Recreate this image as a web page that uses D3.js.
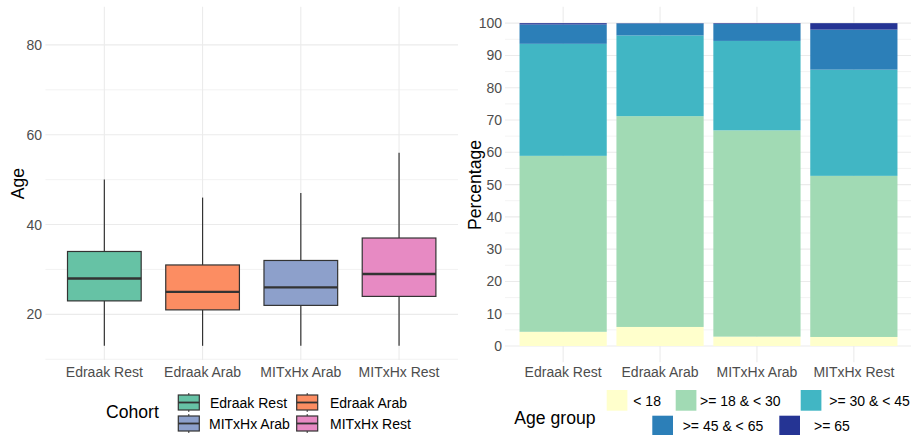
<!DOCTYPE html>
<html><head><meta charset="utf-8">
<script src="https://cdn.jsdelivr.net/npm/d3@7"></script>
<style>body{margin:0;background:#fff}svg{display:block;font-family:"Liberation Sans",Arial,sans-serif}</style>
</head><body><svg id="c" width="911" height="435"></svg>
<script>
// ---- data ----
const cohorts = ["Edraak Rest","Edraak Arab","MITxHx Arab","MITxHx Rest"];
const cohortColors = ["#66C2A5","#FC8D62","#8DA0CB","#E78AC3"];
const boxMin = [13,13,13,13];
const boxQ1 = [23,21,22,24];
const boxMedian = [28,25,26,29];
const boxQ3 = [34,31,32,37];
const boxMax = [50,46,47,56];
const ageTicks = [20,40,60,80];

const ageGroups = ["< 18",">= 18 & < 30",">= 30 & < 45",">= 45 & < 65",">= 65"];
const ageColors = ["#FFFFCC","#A1DAB4","#41B6C4","#2C7FB8","#253494"];
const pctUnder18 = [4.4,5.9,2.9,2.8];
const pct18to30 = [54.5,65.3,63.9,49.9];
const pct30to45 = [34.7,25.0,27.7,32.9];
const pct45to65 = [6.0,3.7,5.3,12.4];
const pct65plus = [0.4,0.1,0.2,2.0];
const pctTicks = [0,10,20,30,40,50,60,70,80,90,100];

const svg = d3.select("#c");
const grid = "#EBEBEB", txt = "#4D4D4D";

// ---- left panel: boxplot ----
const xL = d3.scaleBand().domain(cohorts).range([45.4,458]).paddingOuter(0.6/1.0).paddingInner(0);
// emulate ggplot discrete expansion: center spacing = step
const stepL = (458-45.4)/4.2;
const cxL = c => 45.4 + stepL*(0.6 + cohorts.indexOf(c));
const yL = d3.scaleLinear().domain([9.84,88.5]).range([360,6.7]);

const gL = svg.append("g");
// minor grid
[10,30,50,70].forEach(v=>gL.append("line").attr("x1",45.4).attr("x2",458).attr("y1",yL(v)).attr("y2",yL(v)).attr("stroke",grid).attr("stroke-width",0.6));
ageTicks.forEach(v=>gL.append("line").attr("x1",45.4).attr("x2",458).attr("y1",yL(v)).attr("y2",yL(v)).attr("stroke",grid).attr("stroke-width",1.1));
cohorts.forEach(c=>gL.append("line").attr("x1",cxL(c)).attr("x2",cxL(c)).attr("y1",6.7).attr("y2",360).attr("stroke",grid).attr("stroke-width",1.1));

const yAxisL = d3.axisLeft(yL).tickValues(ageTicks).tickSize(0).tickPadding(0);
const ga = svg.append("g").attr("transform","translate(42,0)").call(yAxisL);
ga.select(".domain").remove();
ga.selectAll("text").attr("fill",txt).attr("font-size",14).attr("font-family","Liberation Sans, Arial, sans-serif");

const bw = stepL*0.75;
cohorts.forEach((c,i)=>{
  const cx = cxL(c);
  gL.append("line").attr("x1",cx).attr("x2",cx).attr("y1",yL(boxMax[i])).attr("y2",yL(boxQ3[i])).attr("stroke","#333").attr("stroke-width",1.2);
  gL.append("line").attr("x1",cx).attr("x2",cx).attr("y1",yL(boxQ1[i])).attr("y2",yL(boxMin[i])).attr("stroke","#333").attr("stroke-width",1.2);
  gL.append("rect").attr("x",cx-bw/2).attr("width",bw).attr("y",yL(boxQ3[i])).attr("height",yL(boxQ1[i])-yL(boxQ3[i]))
    .attr("fill",cohortColors[i]).attr("stroke","#333").attr("stroke-width",1.2);
  gL.append("line").attr("x1",cx-bw/2).attr("x2",cx+bw/2).attr("y1",yL(boxMedian[i])).attr("y2",yL(boxMedian[i])).attr("stroke","#333").attr("stroke-width",2.4);
  svg.append("text").attr("x",cx).attr("y",376.5).attr("text-anchor","middle").attr("font-size",14).attr("fill",txt).text(c);
});
svg.append("text").attr("transform","translate(23.5,183.5) rotate(-90)").attr("text-anchor","middle").attr("font-size",17.6).attr("fill","#000").text("Age");

// left legend
svg.append("text").attr("x",106).attr("y",418).attr("font-size",17.6).attr("fill","#000").text("Cohort");
const legPosL = [[178.3,395,210],[296.7,395,330],[178.3,416,209],[296.7,416,330]];
cohorts.forEach((c,i)=>{
  const [kx,ky,tx] = legPosL[i];
  const kw=21, kh=15;
  svg.append("line").attr("x1",kx+kw/2).attr("x2",kx+kw/2).attr("y1",ky-2).attr("y2",ky+kh+2).attr("stroke","#333").attr("stroke-width",1);
  svg.append("rect").attr("x",kx).attr("y",ky).attr("width",kw).attr("height",kh).attr("fill",cohortColors[i]).attr("stroke","#333").attr("stroke-width",1.2);
  svg.append("line").attr("x1",kx).attr("x2",kx+kw).attr("y1",ky+kh/2).attr("y2",ky+kh/2).attr("stroke","#333").attr("stroke-width",1.8);
  svg.append("text").attr("x",tx).attr("y",ky+12.5).attr("font-size",14).attr("fill","#000").text(c);
});

// ---- right panel: stacked bars ----
const stepR = (912-505)/4.2;
const cxR = i => 505 + stepR*(0.6+i);
const yR = d3.scaleLinear().domain([-5.05,105.1]).range([362.3,6.7]);
const gR = svg.append("g");
d3.range(5,105,10).forEach(v=>gR.append("line").attr("x1",505).attr("x2",911).attr("y1",yR(v)).attr("y2",yR(v)).attr("stroke",grid).attr("stroke-width",0.6));
[-5].forEach(()=>{});
pctTicks.forEach(v=>gR.append("line").attr("x1",505).attr("x2",911).attr("y1",yR(v)).attr("y2",yR(v)).attr("stroke",grid).attr("stroke-width",1.1));
cohorts.forEach((c,i)=>gR.append("line").attr("x1",cxR(i)).attr("x2",cxR(i)).attr("y1",6.7).attr("y2",362.3).attr("stroke",grid).attr("stroke-width",1.1));

const ga2 = svg.append("g").attr("transform","translate(502,0)").call(d3.axisLeft(yR).tickValues(pctTicks).tickSize(0).tickPadding(0));
ga2.select(".domain").remove();
ga2.selectAll("text").attr("fill",txt).attr("font-size",14).attr("font-family","Liberation Sans, Arial, sans-serif");

const table = cohorts.map((c,i)=>({cohort:c, g0:pctUnder18[i], g1:pct18to30[i], g2:pct30to45[i], g3:pct45to65[i], g4:pct65plus[i]}));
const stack = d3.stack().keys(["g0","g1","g2","g3","g4"])(table);
const barW = stepR*0.9;
stack.forEach((layer,k)=>{
  layer.forEach((d,i)=>{
    gR.append("rect").attr("x",cxR(i)-barW/2).attr("width",barW)
      .attr("y",yR(d[1])).attr("height",Math.max(0,yR(d[0])-yR(d[1])))
      .attr("fill",ageColors[k]);
  });
});
cohorts.forEach((c,i)=>svg.append("text").attr("x",cxR(i)).attr("y",376.5).attr("text-anchor","middle").attr("font-size",14).attr("fill",txt).text(c));
svg.append("text").attr("transform","translate(480.5,185) rotate(-90)").attr("text-anchor","middle").attr("font-size",17.6).attr("fill","#000").text("Percentage");

// right legend
svg.append("text").attr("x",514.3).attr("y",423.5).attr("font-size",17.6).attr("fill","#000").text("Age group");
const legPosR = [[606.7,390,633.3],[675.7,390,700],[800.7,390,829.3],[652.3,415.7,682.7],[779.3,415.7,814]];
ageGroups.forEach((g,i)=>{
  const [kx,ky,tx]=legPosR[i];
  svg.append("rect").attr("x",kx).attr("y",ky).attr("width",20.7).attr("height",20.7).attr("fill",ageColors[i]);
  svg.append("text").attr("x",tx).attr("y",ky+15.5).attr("font-size",14).attr("fill","#000").text(g);
});
</script></body></html>
